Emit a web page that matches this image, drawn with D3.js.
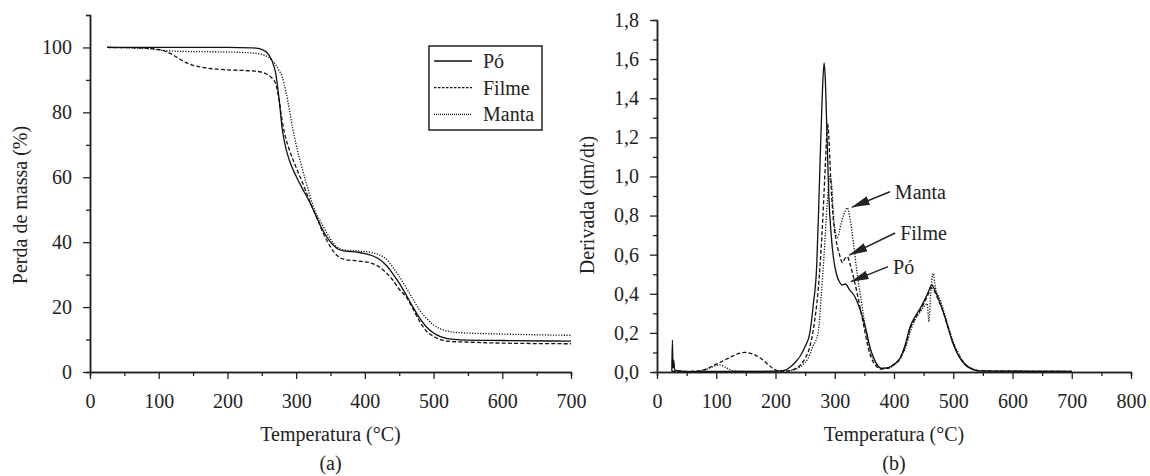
<!DOCTYPE html>
<html>
<head>
<meta charset="utf-8">
<script src="https://cdn.jsdelivr.net/npm/d3@7"></script>
<style>
  body { margin: 0; background: #fff; }
  svg { display: block; }
  text { font-family: "Liberation Serif", "Times New Roman", "DejaVu Serif", serif; fill: #222; }
</style>
</head>
<body>
<svg id="chart" width="1150" height="476"></svg>
<script>
// ---- data: (a) mass loss, temperature in °C vs %
const tgaPo = [[25,100],[100,100],[200,100],[235,99.9],[250,99.4],[260,97.8],[265,95.8],[270,92.3],[275,84.5],[280,74.5],[285,69],[290,65.3],[300,60.3],[310,56.2],[320,52.2],[330,47.6],[340,43.2],[350,40],[360,38],[370,37.3],[390,36.9],[400,36.5],[410,35.9],[420,34.9],[430,33.1],[440,30.5],[450,27.4],[460,23.8],[470,20],[480,16.5],[490,13.8],[500,12],[510,10.9],[520,10.3],[540,9.9],[600,9.7],[700,9.5]]
const tgaFilme = [[25,100],[80,99.8],[100,99.4],[120,97.8],[130,96.5],[140,95.3],[150,94.5],[160,94],[180,93.4],[200,93.1],[240,92.7],[255,92],[265,90.5],[270,89],[275,84],[280,77],[285,72],[290,68.5],[300,63],[310,58],[320,52.5],[330,47.5],[340,42.5],[350,38.5],[360,35.8],[370,34.7],[390,34.2],[410,33.5],[420,32.5],[430,30.8],[440,28.5],[450,25.5],[460,23.2],[470,19.5],[480,15.5],[490,12.5],[500,11],[510,10],[520,9.5],[550,9.2],[600,8.9],[700,8.7]]
const tgaManta = [[25,100],[80,99.7],[100,99.2],[130,98.8],[200,98.6],[240,98.2],[255,97.5],[265,96],[275,93],[280,90.8],[285,86.5],[290,81],[295,75],[300,70],[306,65],[315,58],[325,51],[339,45],[350,41],[360,38.4],[370,37.6],[390,37.3],[410,36.8],[420,36.2],[430,35],[440,32.5],[450,29.5],[460,26],[470,22.5],[480,19],[490,16.5],[500,14.5],[510,13.3],[520,12.6],[540,12.1],[580,11.8],[640,11.5],[700,11.3]]

// ---- data: (b) derivative dm/dt
const dtgPo = [[25,0.005],[26,0.164],[27,0.02],[28,0.06],[30,0.01],[40,0.005],[60,0.002],[100,0.003],[150,0.003],[200,0.004],[215,0.008],[225,0.025],[235,0.055],[241,0.078],[250,0.13],[258,0.2],[264,0.35],[269.5,0.54],[273,0.85],[276,1.15],[279,1.42],[282,1.58],[284,1.5],[287,1.2],[290,0.9],[294,0.7],[298,0.58],[303,0.5],[308,0.46],[312,0.445],[318,0.45],[325,0.42],[334,0.385],[343,0.317],[348,0.27],[354,0.2],[360,0.12],[365,0.078],[372,0.035],[379,0.018],[390,0.022],[400,0.04],[410,0.07],[420,0.15],[427,0.23],[435,0.28],[445,0.33],[452,0.37],[458,0.41],[463.6,0.445],[470,0.41],[478,0.35],[486,0.28],[491,0.23],[498,0.16],[506,0.1],[515,0.055],[525,0.025],[545,0.006],[600,0.004],[700,0.003]]
const dtgFilme = [[25,0.003],[40,0.003],[70,0.005],[80,0.012],[90,0.025],[100,0.04],[110,0.055],[120,0.07],[130,0.085],[140,0.097],[148,0.1],[155,0.098],[165,0.088],[175,0.07],[185,0.045],[195,0.02],[205,0.005],[215,0.004],[230,0.012],[240,0.03],[250,0.07],[258,0.13],[265,0.24],[272,0.42],[278,0.68],[282,0.92],[285,1.12],[288,1.27],[290,1.2],[293,1.0],[297,0.8],[302,0.68],[308,0.6],[313,0.56],[317,0.58],[321,0.59],[326,0.55],[332,0.48],[338,0.4],[344,0.31],[350,0.22],[356,0.13],[362,0.07],[370,0.03],[378,0.015],[390,0.02],[400,0.038],[410,0.068],[420,0.14],[427,0.22],[435,0.27],[445,0.32],[452,0.36],[458,0.4],[462,0.43],[468,0.415],[476,0.36],[484,0.3],[491,0.23],[498,0.165],[506,0.105],[515,0.058],[525,0.027],[545,0.006],[600,0.004],[700,0.003]]
const dtgManta = [[25,0.004],[60,0.003],[80,0.01],[95,0.028],[105,0.036],[115,0.025],[125,0.01],[135,0.004],[200,0.003],[220,0.006],[235,0.015],[245,0.035],[255,0.07],[263,0.13],[272,0.2],[277,0.38],[282,0.6],[287,0.85],[292,1.0],[295,0.95],[298,0.8],[302,0.7],[305,0.69],[310,0.75],[316,0.81],[321,0.84],[326,0.78],[332,0.65],[338,0.5],[344,0.38],[350,0.26],[356,0.16],[362,0.09],[370,0.04],[378,0.02],[390,0.02],[400,0.035],[410,0.065],[420,0.13],[428,0.21],[436,0.27],[445,0.31],[452,0.34],[456,0.35],[459,0.257],[462,0.4],[466,0.505],[470,0.43],[478,0.37],[486,0.29],[493,0.22],[500,0.155],[508,0.1],[518,0.05],[530,0.02],[545,0.006],[600,0.004],[700,0.003]]

const seriesNames = ['Pó', 'Filme', 'Manta']
const dashes = {'Pó': null, 'Filme': '4,2.2', 'Manta': '1.2,1.5'}
const legendDashes = {'Pó': null, 'Filme': '2.5,1.5', 'Manta': '1,1'}

const xTicksA = [0, 100, 200, 300, 400, 500, 600, 700]
const yTicksA = [0, 20, 40, 60, 80, 100]
const xTicksB = [0, 100, 200, 300, 400, 500, 600, 700, 800]
const yTicksB = [0, 0.2, 0.4, 0.6, 0.8, 1.0, 1.2, 1.4, 1.6, 1.8]

// arrows in panel (b): label, tip (T, dm/dt), tail (T, dm/dt)
const arrowLabels = ['Manta', 'Filme', 'Pó']
const arrowTips = [[328.6, 0.842], [324.6, 0.598], [327, 0.462]]
const arrowTails = [[393, 0.922], [402, 0.711], [390, 0.539]]

const svg = d3.select('#chart')
const ink = '#222'
const serif = '"Liberation Serif", "Times New Roman", "DejaVu Serif", serif'

svg.append('defs').append('marker')
  .attr('id', 'head')
  .attr('viewBox', '0 0 18 9')
  .attr('refX', 18).attr('refY', 4.5)
  .attr('markerWidth', 18).attr('markerHeight', 9)
  .attr('markerUnits', 'userSpaceOnUse')
  .attr('orient', 'auto')
  .append('path')
  .attr('d', 'M0,0 L18,4.5 L0,9 Z')
  .attr('fill', ink)

let drawPanel = (opt) => {
  const x = d3.scaleLinear().domain(opt.xDomain).range([opt.left, opt.right])
  const y = d3.scaleLinear().domain(opt.yDomain).range([opt.bottom, opt.top])
  const g = svg.append('g')

  // minor ticks
  const xMinor = d3.range(opt.xDomain[0] + opt.xMinorStep, opt.xDomain[1], opt.xMinorStep * 2)
  g.append('g')
    .attr('transform', `translate(0,${opt.bottom})`)
    .call(d3.axisBottom(x).tickValues(xMinor).tickSize(4).tickFormat(''))
  const yMinor = d3.range(1, Math.round((opt.yDomain[1] - opt.yDomain[0]) / opt.yMinorStep) + 1)
    .map(i => opt.yDomain[0] + i * opt.yMinorStep)
    .filter(v => !opt.yTicks.some(t => Math.abs(t - v) < 1e-9))
  g.append('g')
    .attr('transform', `translate(${opt.left},0)`)
    .call(d3.axisLeft(y).tickValues(yMinor).tickSize(4).tickFormat(''))

  const xAxis = g.append('g')
    .attr('transform', `translate(0,${opt.bottom})`)
    .call(d3.axisBottom(x).tickValues(opt.xTicks).tickSize(7).tickSizeOuter(0).tickPadding(10))
  const yAxis = g.append('g')
    .attr('transform', `translate(${opt.left},0)`)
    .call(d3.axisLeft(y).tickValues(opt.yTicks).tickSize(7).tickSizeOuter(0).tickPadding(11)
      .tickFormat(opt.yFormat))

  g.selectAll('.domain').attr('stroke', ink).attr('stroke-width', 1.5)
  g.selectAll('.tick line').attr('stroke', ink).attr('stroke-width', 1.3)
  g.selectAll('.tick text').attr('font-size', 20).attr('font-family', serif).attr('fill', ink)
  xAxis.selectAll('.tick text').attr('dy', '0.95em')

  const line = d3.line().x(d => x(d[0])).y(d => y(d[1])).curve(d3.curveMonotoneX)
  opt.series.forEach((s, i) => {
    g.append('path')
      .datum(s)
      .attr('d', line)
      .attr('fill', 'none')
      .attr('stroke', '#111')
      .attr('stroke-width', 1.3)
      .attr('stroke-dasharray', dashes[seriesNames[i]])
  })

  // titles
  g.append('text')
    .attr('x', (opt.left + opt.right) / 2).attr('y', 441)
    .attr('text-anchor', 'middle').attr('font-size', 20)
    .text('Temperatura (°C)')
  g.append('text')
    .attr('x', (opt.left + opt.right) / 2).attr('y', 470)
    .attr('text-anchor', 'middle').attr('font-size', 20)
    .text(opt.tag)
  g.append('text')
    .attr('transform', `translate(${opt.left - 63},205) rotate(-90)`)
    .attr('text-anchor', 'middle').attr('font-size', 20)
    .text(opt.yTitle)

  return {x, y, g}
}

const a = drawPanel({
  left: 90, right: 571, top: 15, bottom: 372,
  xDomain: [0, 700], yDomain: [0, 110],
  xTicks: xTicksA, yTicks: yTicksA, xMinorStep: 50, yMinorStep: 10,
  yFormat: d3.format('d'),
  series: [tgaPo, tgaFilme, tgaManta],
  yTitle: 'Perda de massa (%)', tag: '(a)'
})

// legend of panel (a)
const legend = a.g.append('g')
legend.append('rect')
  .attr('x', 429).attr('y', 46).attr('width', 113).attr('height', 84)
  .attr('fill', '#fff').attr('stroke', ink).attr('stroke-width', 1.5)
seriesNames.forEach((name, i) => {
  const yy = 61 + i * 26.7
  legend.append('line')
    .attr('x1', 434).attr('x2', 472).attr('y1', yy).attr('y2', yy)
    .attr('stroke', '#111').attr('stroke-width', 1.3)
    .attr('stroke-dasharray', legendDashes[name])
  legend.append('text')
    .attr('x', 483).attr('y', yy + 7).attr('font-size', 20)
    .text(name)
})

const b = drawPanel({
  left: 657, right: 1131, top: 20, bottom: 372,
  xDomain: [0, 800], yDomain: [0, 1.8],
  xTicks: xTicksB, yTicks: yTicksB, xMinorStep: 50, yMinorStep: 0.1,
  yFormat: d => d3.format('.1f')(d).replace('.', ','),
  series: [dtgPo, dtgFilme, dtgManta],
  yTitle: 'Derivada (dm/dt)', tag: '(b)'
})

arrowLabels.forEach((label, i) => {
  const tail = arrowTails[i], tip = arrowTips[i]
  b.g.append('line')
    .attr('x1', b.x(tail[0])).attr('y1', b.y(tail[1]))
    .attr('x2', b.x(tip[0])).attr('y2', b.y(tip[1]))
    .attr('stroke', ink).attr('stroke-width', 1.5)
    .attr('marker-end', 'url(#head)')
  b.g.append('text')
    .attr('x', b.x(tail[0]) + 5).attr('y', b.y(tail[1]) + 7)
    .attr('font-size', 20)
    .text(label)
})
</script>
</body>
</html>
